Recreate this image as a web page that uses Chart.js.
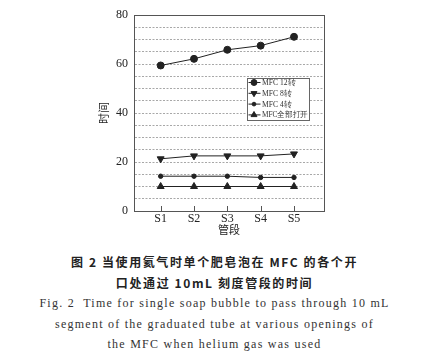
<!DOCTYPE html>
<html>
<head>
<meta charset="utf-8">
<script src="https://cdn.jsdelivr.net/npm/chart.js@4.4.0/dist/chart.umd.min.js"></script>
<style>
    html, body { margin: 0; padding: 0; background: #fff; }
    #wrap { position: relative; width: 429px; height: 240px; }
    .cap { width: 429px; text-align: center; color: #222; white-space: nowrap; }
    .zh { font-family: "Noto Sans CJK SC", sans-serif; font-weight: bold; font-size: 12px; letter-spacing: 1.6px; height: 20.5px; line-height: 20.5px; }
    .en { font-family: "Liberation Serif", serif; font-size: 12px; letter-spacing: 1.25px; height: 20.5px; line-height: 20.5px; color: #333; }
</style>
</head>
<body>
<div id="wrap"><canvas id="chart" width="429" height="240"></canvas></div>
<div class="cap zh" style="margin-top:12px">图 2 当使用氦气时单个肥皂泡在 MFC 的各个开</div>
<div class="cap zh">口处通过 10mL 刻度管段的时间</div>
<div class="cap en">Fig. 2&nbsp; Time for single soap bubble to pass through 10 mL</div>
<div class="cap en">segment of the graduated tube at various openings of</div>
<div class="cap en">the MFC when helium gas was used</div>
<script>
(function () {
    const segments = ["S1", "S2", "S3", "S4", "S5"];
    const seriesNames = ["MFC 12转", "MFC 8转", "MFC 4转", "MFC全部打开"];
    const mfc12 = [59.4, 62.1, 65.8, 67.5, 71.1];
    const mfc8 = [21.3, 22.5, 22.5, 22.5, 23.3];
    const mfc4 = [14.2, 14.2, 14.2, 13.7, 13.7];
    const mfcOpen = [10, 10, 10, 10, 10];
    const yTicks = [0, 20, 40, 60, 80];

    const serif = "'Liberation Serif', 'Times New Roman', serif";
    const ink = "#222";

    function toPoints(values) {
        return values.map((v, i) => ({ x: i + 1, y: v }));
    }

    const styles = [
        { pointStyle: "circle", radius: 3.5, rotation: 0 },
        { pointStyle: "triangle", radius: 4, rotation: 180 },
        { pointStyle: "circle", radius: 2.2, rotation: 0 },
        { pointStyle: "triangle", radius: 4, rotation: 0 },
    ];
    const allValues = [mfc12, mfc8, mfc4, mfcOpen];

    const frameAndLegend = {
        id: "frameAndLegend",
        afterDatasetsDraw(chart) {
            const { ctx, chartArea } = chart;
            ctx.save();
            ctx.strokeStyle = "#555";
            ctx.lineWidth = 1;
            ctx.strokeRect(chartArea.left + 0.5, chartArea.top + 0.5,
                chartArea.right - chartArea.left, chartArea.bottom - chartArea.top);

            // inward tick marks on the x axis
            const xs = chart.scales.x;
            xs.ticks.forEach((t) => {
                const px = Math.round(xs.getPixelForValue(t.value)) + 0.5;
                ctx.beginPath();
                ctx.moveTo(px, chartArea.bottom);
                ctx.lineTo(px, chartArea.bottom - 5);
                ctx.stroke();
            });

            // legend box inside the plot
            const bx = 247.5, by = 78.5, bw = 62, bh = 42;
            ctx.fillStyle = "#fff";
            ctx.fillRect(bx, by, bw, bh);
            ctx.strokeStyle = "#666";
            ctx.strokeRect(bx, by, bw, bh);
            ctx.textBaseline = "middle";
            seriesNames.forEach((name, i) => {
                const y = by + 4 + i * 10.8;
                ctx.strokeStyle = ink;
                ctx.beginPath();
                ctx.moveTo(bx + 1, y);
                ctx.lineTo(bx + 13, y);
                ctx.stroke();
                ctx.fillStyle = ink;
                Chart.helpers.drawPoint(ctx, {
                    pointStyle: styles[i].pointStyle,
                    radius: styles[i].radius * 0.85,
                    rotation: styles[i].rotation,
                    borderWidth: 1,
                }, bx + 6.5, y);
                ctx.fillStyle = "#333";
                ctx.font = "7.6px " + serif;
                ctx.fillText(name, bx + 14.5, y + 0.5, bw - 16);
            });
            ctx.restore();
        },
    };

    new Chart(document.getElementById("chart"), {
        type: "line",
        data: {
            datasets: seriesNames.map((name, i) => ({
                label: name,
                data: toPoints(allValues[i]),
                borderColor: ink,
                borderWidth: 1,
                backgroundColor: ink,
                pointBackgroundColor: ink,
                pointBorderColor: ink,
                pointStyle: styles[i].pointStyle,
                pointRadius: styles[i].radius,
                pointRotation: styles[i].rotation,
                tension: 0,
            })),
        },
        options: {
            responsive: false,
            animation: false,
            layout: { padding: { left: 97, right: 105, top: 15, bottom: 4 } },
            plugins: { legend: { display: false }, tooltip: { enabled: false } },
            scales: {
                x: {
                    type: "linear",
                    min: 0.2,
                    max: 5.9,
                    afterBuildTicks(scale) {
                        scale.ticks = segments.map((_, i) => ({ value: i + 1 }));
                    },
                    afterFit(scale) { scale.height = 25; },
                    ticks: {
                        callback: (v) => segments[v - 1],
                        color: ink,
                        font: { family: serif, size: 12 },
                        padding: 1,
                        maxRotation: 0,
                    },
                    grid: { drawOnChartArea: false, drawTicks: false },
                    border: { color: "#555" },
                    title: {
                        display: true,
                        text: "管段",
                        color: ink,
                        font: { family: "'Noto Sans CJK SC', sans-serif", size: 11 },
                        padding: { top: 0, bottom: 0 },
                    },
                },
                y: {
                    min: 0,
                    max: 80,
                    afterFit(scale) { scale.width = 37; },
                    ticks: {
                        stepSize: 5,
                        autoSkip: false,
                        callback: (v) => (yTicks.includes(v) ? String(v) : ""),
                        color: ink,
                        font: { family: serif, size: 12 },
                        padding: 6,
                    },
                    grid: { drawTicks: false, color: "#a8a8a8", lineWidth: 1 },
                    border: { color: "#555", dash: [2, 1.5] },
                    title: {
                        display: true,
                        text: "时间",
                        color: ink,
                        font: { family: "'Noto Sans CJK SC', sans-serif", size: 11 },
                        padding: { top: 0, bottom: 0 },
                    },
                },
            },
        },
        plugins: [frameAndLegend],
    });
})();
</script>
</body>
</html>
